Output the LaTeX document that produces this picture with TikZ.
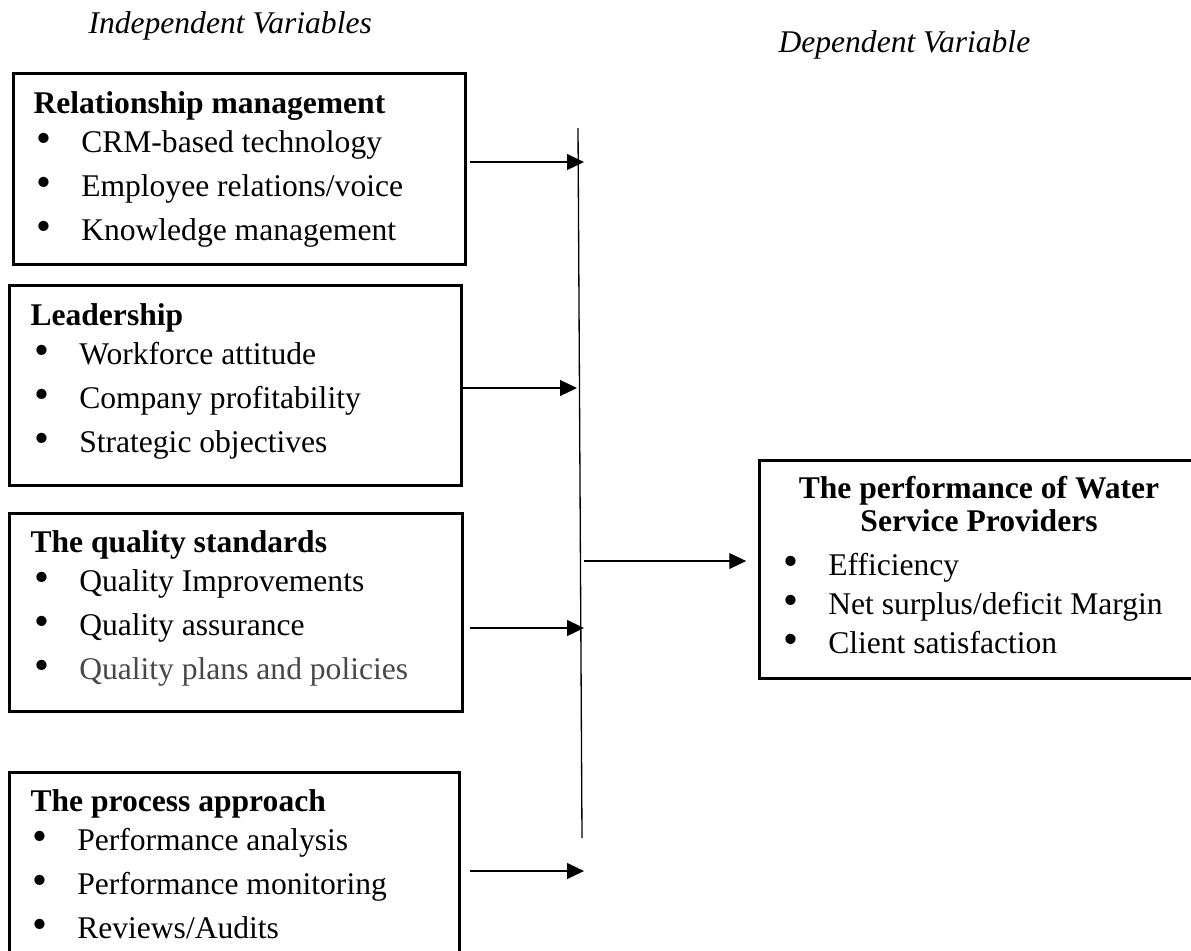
\documentclass[tikz,border=0pt]{standalone}
\usepackage{fontspec}
\setmainfont{Liberation Serif}
\usepackage{tikz}
\usetikzlibrary{arrows.meta}
\tikzset{
  varbox/.style  = {draw=black, line width=1pt, anchor=north west, inner sep=0pt},
  headtxt/.style = {font=\fontsize{12}{14}\selectfont\bfseries, anchor=base west, inner sep=0pt},
  itemtxt/.style = {font=\fontsize{12}{14}\selectfont, anchor=base west, inner sep=0pt},
  vartxt/.style  = {font=\fontsize{12}{14}\selectfont\itshape, anchor=base west, inner sep=0pt},
  flow/.style    = {-{Triangle[length=6.4pt, width=6pt]}, draw=black, line width=0.45pt},
  spine/.style   = {draw=black, line width=0.5pt},
}
\newcommand{\bul}{\makebox[17pt][l]{\scalebox{1.35}{\textbullet}}}

\begin{document}
\begin{tikzpicture}[x=0.38pt, y=-0.38pt]
    \useasboundingbox (0,0) rectangle (1191,950);

    % ---------------- headings
    \node[vartxt] (indep) at (88,33) {Independent Variables};
    \node[vartxt] (dep) at (778,52) {Dependent Variable};

    % ---------------- relationship management
    \node[varbox, minimum width=171.8pt, minimum height=72.6pt] (rm) at (12,72) {};
    \node[headtxt] (rmh) at (33,113) {Relationship management};
    \foreach \t [count=\i] in {CRM-based technology, Employee relations/voice, Knowledge management}
      {\node[itemtxt] (rm\i) at (36,108+44*\i) {\bul\t};}

    % ---------------- leadership
    \node[varbox, minimum width=171.8pt, minimum height=76pt] (ld) at (8,284) {};
    \node[headtxt] (ldh) at (30,325) {Leadership};
    \foreach \t [count=\i] in {Workforce attitude, Company profitability, Strategic objectives}
      {\node[itemtxt] (ld\i) at (34,320+44*\i) {\bul\t};}

    % ---------------- quality standards
    \node[varbox, minimum width=172.1pt, minimum height=75.2pt] (qs) at (8,512) {};
    \node[headtxt] (qsh) at (30,552) {The quality standards};
    \foreach \t/\c [count=\i] in {Quality Improvements/black, Quality assurance/black,
                                 Quality plans and policies/black!72}
      {\node[itemtxt, text=\c] (qs\i) at (34,547+44*\i) {\textcolor{black}{\bul}\t};}

    % ---------------- process approach
    \node[varbox, minimum width=171pt, minimum height=83.6pt] (pa) at (8,771) {};
    \node[headtxt] (pah) at (30,811) {The process approach};
    \foreach \t [count=\i] in {Performance analysis, Performance monitoring, Reviews/Audits}
      {\node[itemtxt] (pa\i) at (32,806+44*\i) {\bul\t};}

    % ---------------- dependent variable
    \node[varbox, minimum width=168pt, minimum height=82.8pt] (wsp) at (758,459) {};
    \node[headtxt, anchor=base] (wsph1) at (979,498) {The performance of Water};
    \node[headtxt, anchor=base] (wsph2) at (979,531) {Service Providers};
    \foreach \t [count=\i] in {Efficiency, Net surplus/deficit Margin, Client satisfaction}
      {\node[itemtxt] (wsp\i) at (783,536+39*\i) {\bul\t};}

    % ---------------- connectors
    \coordinate (vtop) at (578,128);
    \coordinate (vbot) at (582,838);
    \draw[spine] (vtop) -- (vbot);

    \coordinate (a1) at (584,162);
    \coordinate (a2) at (577,388);
    \coordinate (a3) at (584,628);
    \coordinate (a4) at (584,871);
    \draw[flow, shorten <=1.1pt] (rm.east |- a1) -- (a1);
    \draw[flow] (ld.east |- a2) -- (a2);
    \draw[flow, shorten <=2.6pt] (qs.east |- a3) -- (a3);
    \draw[flow, shorten <=3.4pt] (pa.east |- a4) -- (a4);

    \coordinate (m0) at (584,561);
    \draw[flow, shorten >=4.5pt] (m0) -- (wsp.west |- m0);
  \end{tikzpicture}
\end{document}
